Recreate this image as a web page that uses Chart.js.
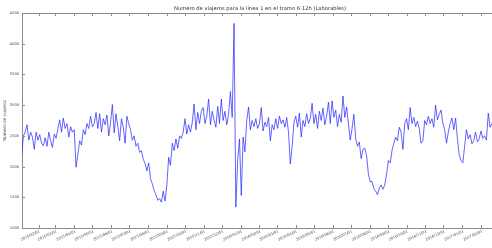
<!DOCTYPE html>
<html lang="es">
<head>
  <meta charset="UTF-8" />
  <script src="https://cdn.jsdelivr.net/npm/chart.js"></script>
  <title>Viajeros linea 1</title>
  <style>
    html, body { margin: 0; padding: 0; background: #fff; overflow: hidden; }
    #wrap { width: 492px; height: 248px; overflow: hidden; }
  </style>
</head>
<body>
  <div id="wrap">
    <canvas id="lineChart" width="500" height="252"></canvas>
  </div>

  <script>
    // dias desde 2015/01/01 (laborables, muestreo cada 3 dias)
    const dias = [
      3, 6, 9, 12, 15, 18, 21, 24, 27, 30,
      33, 36, 39, 42, 45, 48, 51, 54, 57, 60,
      63, 66, 69, 72, 75, 78, 81, 84, 87, 90,
      93, 96, 99, 102, 105, 108, 111, 114, 117, 120,
      123, 126, 129, 132, 135, 138, 141, 144, 147, 150,
      153, 156, 159, 162, 165, 168, 171, 174, 177, 180,
      183, 186, 189, 192, 195, 198, 201, 204, 207, 210,
      213, 216, 219, 222, 225, 228, 231, 234, 237, 240,
      243, 246, 249, 252, 255, 258, 261, 264, 267, 270,
      273, 276, 279, 282, 285, 288, 291, 294, 297, 300,
      303, 306, 309, 312, 315, 318, 321, 324, 327, 330,
      333, 336, 339, 342, 345, 348, 351, 354, 357, 360,
      363, 366, 369, 372, 375, 378, 381, 384, 387, 390,
      393, 396, 399, 402, 405, 408, 411, 414, 417, 420,
      423, 426, 429, 432, 435, 438, 441, 444, 447, 450,
      453, 456, 459, 462, 465, 468, 471, 474, 477, 480,
      483, 486, 489, 492, 495, 498, 501, 504, 507, 510,
      513, 516, 519, 522, 525, 528, 531, 534, 537, 540,
      543, 546, 549, 552, 555, 558, 561, 564, 567, 570,
      573, 576, 579, 582, 585, 588, 591, 594, 597, 600,
      603, 606, 609, 612, 615, 618, 621, 624, 627, 630,
      633, 636, 639, 642, 645, 648, 651, 654, 657, 660,
      663, 666, 669, 672, 675, 678, 681, 684, 687, 690,
      693, 696, 699, 702, 705, 708, 711, 714, 717, 720,
      723, 726, 729, 732, 735, 738, 741, 744, 747, 750,
      753, 756, 759, 762, 765, 768, 771, 774, 777, 780
    ];

    const viajeros = [
      2150, 2500, 2560, 2680, 2430, 2560, 2480, 2280, 2560, 2430,
      2520, 2380, 2340, 2470, 2330, 2560, 2420, 2310, 2530, 2460,
      2620, 2760, 2560, 2790, 2620, 2700, 2480, 2650, 2560, 2600,
      1990, 2200, 2420, 2350, 2600, 2520, 2700, 2620, 2820, 2650,
      2700, 2880, 2620, 2860, 2560, 2780, 2680, 2840, 2500, 2720,
      3010, 2550, 2860, 2650, 2420, 2780, 2640, 2380, 2820, 2700,
      2600, 2430, 2500, 2330, 2380, 2230, 2260, 2120, 2050, 1930,
      2060, 1800, 1720, 1610, 1540, 1450, 1480, 1420, 1600, 1440,
      1700, 2150, 2020, 2380, 2260, 2450, 2300, 2500, 2460, 2560,
      2780, 2530, 2680, 2560, 2720, 3020, 2600, 2880, 2700, 2900,
      2960, 2700, 2820, 3100, 2680, 2900, 2760, 2640, 2980, 2700,
      3100, 2750, 2900, 2680, 2850, 3220, 2800, 4330, 1340, 2100,
      2450, 1530, 2480, 2240, 2750, 2970, 2600, 2750, 2650, 2780,
      2620, 2700, 2960, 2580, 2720, 2650, 2800, 2420, 2680, 2600,
      2780, 2620, 2820, 2700, 2760, 2640, 2800, 2560, 2040, 2330,
      2720, 2820, 2640, 2870, 2480, 2750, 2650, 2860, 2700, 2790,
      3030, 2700, 2850, 2620, 2900, 2750, 2950, 2680, 2820, 3050,
      2700, 3070, 2800, 2920, 2650, 2850, 2720, 3150, 2800, 2970,
      2700, 2430, 2620, 2850, 2450, 2330, 2400, 2130, 2280, 2300,
      2180, 1880, 1750, 1760, 1640, 1600, 1540, 1650, 1700, 1630,
      1700, 1880, 2100, 2060, 2260, 2380, 2480, 2420, 2640, 2560,
      2280, 2700, 2780, 2600, 2960, 2700, 2800, 2650, 2740, 2620,
      2380, 2420, 2750, 2680, 2820, 2700, 2780, 2640, 3000, 2760,
      2850, 2920, 2710, 2600, 2380, 2560, 2700, 2790, 2600, 2790,
      2460, 2190, 2100, 2060, 2330, 2600, 2450, 2520, 2370, 2420,
      2560, 2400, 2450, 2580, 2460, 2500, 2430, 2870, 2640, 2700
    ];

    const etiquetasX = [
      "2015/02/01", "2015/03/01", "2015/04/01", "2015/05/01", "2015/06/01",
      "2015/07/01", "2015/08/01", "2015/09/01", "2015/10/01", "2015/11/01",
      "2015/12/01", "2016/01/01", "2016/02/01", "2016/03/01", "2016/04/01",
      "2016/05/01", "2016/06/01", "2016/07/01", "2016/08/01", "2016/09/01",
      "2016/10/01", "2016/11/01", "2016/12/01", "2017/01/01", "2017/02/01"
    ];
    const ticksY = [1000, 1500, 2000, 2500, 3000, 3500, 4000, 4500];

    const inicio = Date.UTC(2015, 0, 1);
    function diaDe(str) {
      const [a, m, d] = str.split("/").map(Number);
      return Math.round((Date.UTC(a, m - 1, d) - inicio) / 86400000);
    }
    const ticksDias = etiquetasX.map(diaDe);

    const gris = "#8c8c8c";
    const fuente = "'DejaVu Sans', sans-serif";

    // marco, marcas y textos al estilo matplotlib
    const marco = {
      id: "marco",
      afterDraw(chart) {
        const ctx = chart.ctx;
        const a = chart.chartArea;
        const sx = chart.scales.x, sy = chart.scales.y;
        ctx.save();
        ctx.strokeStyle = gris;
        ctx.lineWidth = 1;
        ctx.beginPath();
        ctx.moveTo(a.left, a.top + 0.5);
        ctx.lineTo(a.right, a.top + 0.5);
        ctx.moveTo(a.right - 0.5, a.top);
        ctx.lineTo(a.right - 0.5, a.bottom);
        ticksDias.forEach(v => {
          const px = Math.round(sx.getPixelForValue(v)) + 0.5;
          ctx.moveTo(px, a.top);
          ctx.lineTo(px, a.top + 3);
          ctx.moveTo(px, a.bottom);
          ctx.lineTo(px, a.bottom - 3);
        });
        ticksY.forEach(v => {
          const py = Math.round(sy.getPixelForValue(v)) + 0.5;
          ctx.moveTo(a.left, py);
          ctx.lineTo(a.left + 3, py);
        });
        ctx.stroke();

        ctx.fillStyle = "#444";
        // etiquetas eje y
        ctx.font = "3.6px " + fuente;
        ctx.textAlign = "right";
        ctx.textBaseline = "middle";
        ticksY.forEach(v => ctx.fillText(String(v), a.left - 3, sy.getPixelForValue(v)));

        // etiquetas eje x (rotadas)
        ctx.textBaseline = "top";
        ticksDias.forEach((v, i) => {
          ctx.save();
          ctx.translate(sx.getPixelForValue(v) + 0.5, a.bottom + 1.5);
          ctx.rotate(-25 * Math.PI / 180);
          ctx.fillText(etiquetasX[i], 0, 0);
          ctx.restore();
        });

        // titulo del eje y
        ctx.save();
        ctx.font = "4.2px " + fuente;
        ctx.textAlign = "center";
        ctx.textBaseline = "middle";
        ctx.translate(5, (a.top + a.bottom) / 2);
        ctx.rotate(-Math.PI / 2);
        ctx.fillText("Numero de viajeros", 0, 0);
        ctx.restore();

        // titulo del eje x
        ctx.font = "4.2px " + fuente;
        ctx.textAlign = "center";
        ctx.textBaseline = "middle";
        ctx.fillText("Fecha", (a.left + a.right) / 2 + 1, 249.5);

        // titulo
        ctx.fillStyle = "#333";
        ctx.font = "5.2px " + fuente;
        ctx.fillText("Numero de viajeros para la linea 1 en el tramo 6-12h (Laborables)", (a.left + a.right) / 2 + 1, 8.5);
        ctx.restore();
      }
    };

    new Chart(document.getElementById("lineChart").getContext("2d"), {
      type: "line",
      data: {
        datasets: [{
          data: dias.map((d, i) => ({ x: d, y: viajeros[i] })),
          borderColor: "rgba(40, 40, 255, 0.72)",
          borderWidth: 1,
          pointRadius: 0,
          tension: 0,
          fill: false
        }]
      },
      options: {
        responsive: false,
        animation: false,
        layout: { padding: { top: 13, right: 4, left: 0, bottom: 0 } },
        plugins: { legend: { display: false }, tooltip: { enabled: false }, title: { display: false } },
        scales: {
          x: {
            type: "linear",
            min: 3.7,
            max: 786.8,
            afterFit(scale) { scale.height = 24; },
            afterBuildTicks(scale) { scale.ticks = ticksDias.map(v => ({ value: v })); },
            ticks: { display: false },
            grid: { display: false },
            border: { display: true, color: gris, width: 1 }
          },
          y: {
            min: 1000,
            max: 4500,
            afterFit(scale) { scale.width = 22; },
            afterBuildTicks(scale) { scale.ticks = ticksY.map(v => ({ value: v })); },
            ticks: { display: false },
            grid: { display: false },
            border: { display: true, color: gris, width: 1 }
          }
        }
      },
      plugins: [marco]
    });
  </script>
</body>
</html>
